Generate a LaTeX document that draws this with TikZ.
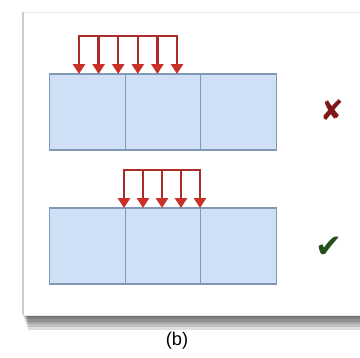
\documentclass[tikz,border=0pt]{standalone}
\usepackage{fontspec}
\setsansfont{Liberation Sans}
\newfontfamily\symfont{DejaVu Sans}
\usetikzlibrary{positioning,arrows.meta}
\definecolor{cellblue}{RGB}{207,223,246}
\definecolor{cellline}{RGB}{130,150,182}
\definecolor{loadred}{RGB}{200,48,40}
\definecolor{shaftred}{RGB}{170,44,40}
\definecolor{crossred}{RGB}{128,22,22}
\definecolor{checkgreen}{RGB}{34,80,24}
\definecolor{panelgrey}{RGB}{205,205,205}

\begin{document}
\begin{tikzpicture}[
    x=0.025cm, y=-0.025cm,
    cell/.style={draw=cellline, fill=cellblue, line width=0.8pt, minimum width=1.89cm, minimum height=1.9cm, inner sep=0pt, outer sep=0pt},
    load/.style={draw=shaftred, line width=1.6pt, -{Triangle[width=8.5pt,length=7pt,color=loadred]}},
    loadbar/.style={draw=shaftred, line width=1.6pt, line cap=rect},
    verdict/.style={font=\symfont\fontsize{20}{20}\selectfont},
]
\useasboundingbox (0,0) rectangle (360,357);
% panel and its shadow
\foreach \k in {1,...,6}
  \fill[black, opacity=0.13] ({22+\k},314) rectangle (370,{314+\k*2.6});
\fill[white, draw=panelgrey!40] (23,12) rectangle (372,315);
\draw[panelgrey, line width=1.6pt] (23,12) -- (23,315);

% top row: load wider than one cell
\node[cell] (a1) at (87.5,112) {};
\node[cell, right=0pt of a1] (a2) {};
\node[cell, right=0pt of a2] (a3) {};
\foreach \i in {0,...,5}
  \coordinate (t\i) at ({79+19.6*\i},36);
\draw[loadbar] (t0) -- (t5);
\foreach \i in {0,...,5}
  \draw[load] (t\i) -- (t\i |- a1.north);
\node[verdict, text=crossred] (bad) at (332,110) {✘};

% bottom row: load within one cell
\node[cell] (b1) at (87.5,246) {};
\node[cell, right=0pt of b1] (b2) {};
\node[cell, right=0pt of b2] (b3) {};
\foreach \i in {0,...,4}
  \coordinate (s\i) at ({124+19*\i},170);
\draw[loadbar] (s0) -- (s4);
\foreach \i in {0,...,4}
  \draw[load] (s\i) -- (s\i |- b1.north);
\node[verdict, text=checkgreen, font=\symfont\fontsize{23}{23}\selectfont] (good) at (329,247) {✔};

\node[font=\sffamily\fontsize{13}{13}\selectfont] (cap) at (177,341) {(b)};
\end{tikzpicture}
\end{document}
